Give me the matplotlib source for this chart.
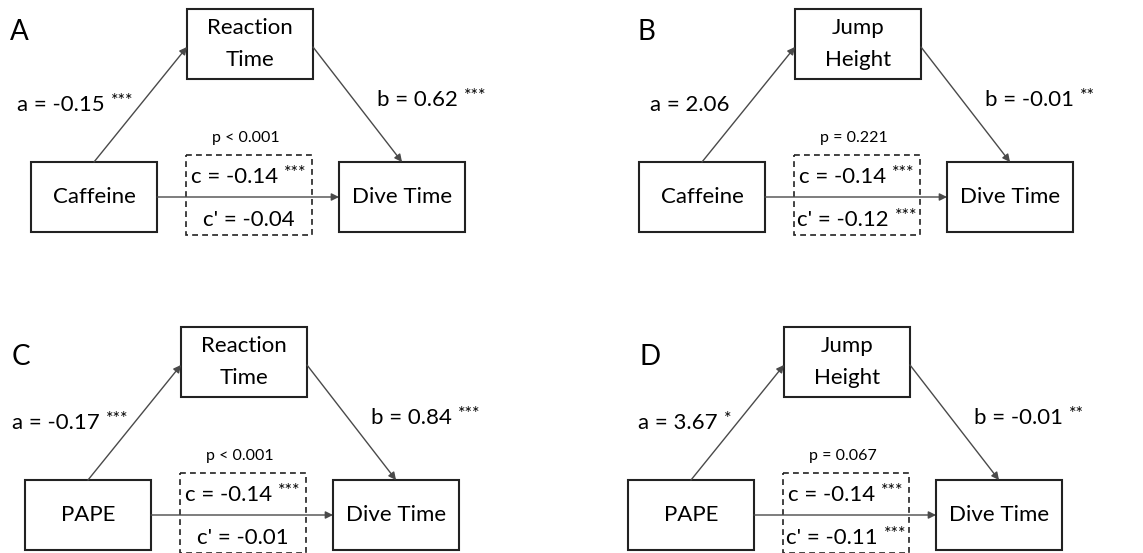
import matplotlib
matplotlib.use("Agg")
import matplotlib.pyplot as plt
from matplotlib.patches import Rectangle, FancyArrowPatch

plt.rcParams['font.family'] = ['Lato', 'DejaVu Sans']

# ---- data ----
panel_letters = ["A", "B", "C", "D"]
predictors = ["Caffeine", "Caffeine", "PAPE", "PAPE"]
mediators = ["Reaction\nTime", "Jump\nHeight", "Reaction\nTime", "Jump\nHeight"]
outcome = "Dive Time"
a_vals = ["-0.15", "2.06", "-0.17", "3.67"]
a_sig = ["***", "", "***", "*"]
b_vals = ["0.62", "-0.01", "0.84", "-0.01"]
b_sig = ["***", "**", "***", "**"]
c_vals = ["-0.14", "-0.14", "-0.14", "-0.14"]
c_sig = ["***", "***", "***", "***"]
cp_vals = ["-0.04", "-0.12", "-0.01", "-0.11"]
cp_sig = ["", "***", "", "***"]
p_texts = ["p < 0.001", "p = 0.221", "p < 0.001", "p = 0.067"]

# ---- layout (pixels) ----
W, H = 1143, 553
pred_xy = [(31, 162), (639, 162), (25, 480), (628, 480)]
letter_xy = [(10, 32), (638, 32), (12, 357), (639, 357)]
a_left = [17, 650, 12, 638]
BW, BH = 126, 70
MED_DX, MED_DY = 156, -153
OUT_DX = 308
DSH_DX, DSH_DY, DSH_W, DSH_H = 155, -7, 126, 80

fig = plt.figure(figsize=(W / 100, H / 100), dpi=100)
ax = fig.add_axes([0, 0, 1, 1])
ax.set_xlim(0, W)
ax.set_ylim(H, 0)
ax.axis('off')
fig.canvas.draw()
renderer = fig.canvas.get_renderer()

BOX_FS = 16
LBL_FS = 16
STAR_FS = 13
P_FS = 11.5
ARROW_C = '#4a4a4a'


def text_with_stars(x, y, main, stars, align='left'):
    t = ax.text(x, y, main, fontsize=LBL_FS, va='center', ha='left', color='black')
    s = ax.text(x, y, stars, fontsize=STAR_FS, va='top', ha='left', color='black')
    bb = t.get_window_extent(renderer)
    w1 = bb.width
    gap = 6
    w2 = s.get_window_extent(renderer).width if stars else 0
    total = w1 + (gap + w2 if stars else 0)
    if align == 'center':
        x0 = x - total / 2
    elif align == 'right':
        x0 = x - total
    else:
        x0 = x
    t.set_x(x0)
    s.set_x(x0 + w1 + gap)
    top = H - bb.y1
    s.set_y(top - 2)


def box(x, y, w, h, label, dashed=False):
    if dashed:
        r = Rectangle((x, y), w, h, fill=False, edgecolor='#222222', lw=1.2,
                      linestyle=(0, (3.5, 2.5)))
    else:
        r = Rectangle((x, y), w, h, fill=False, edgecolor='#222222', lw=1.5)
    ax.add_patch(r)
    if label:
        ax.text(x + w / 2, y + h / 2, label, fontsize=BOX_FS, ha='center', va='center',
                linespacing=1.75, color='black')


def arrow(p0, p1):
    a = FancyArrowPatch(p0, p1, arrowstyle='-|>', mutation_scale=11, lw=1.0,
                        color=ARROW_C, shrinkA=0, shrinkB=0)
    ax.add_patch(a)


for i in range(4):
    px, py = pred_xy[i]
    mx, my = px + MED_DX, py + MED_DY
    ox, oy = px + OUT_DX, py
    dx, dy = px + DSH_DX, py + DSH_DY

    ax.text(letter_xy[i][0], letter_xy[i][1], panel_letters[i], fontsize=20,
            ha='left', va='center', color='black')

    box(dx, dy, DSH_W, DSH_H, None, dashed=True)
    box(px, py, BW, BH, predictors[i])
    box(mx, my, BW, BH, mediators[i])
    box(ox, oy, BW, BH, outcome)

    arrow((px + BW / 2, py), (mx, my + BH / 2 + 3))
    arrow((mx + BW, my + BH / 2 + 3), (ox + BW / 2, oy))
    arrow((px + BW, py + BH / 2), (ox, oy + BH / 2))

    text_with_stars(a_left[i], py - 57, "a = " + a_vals[i], a_sig[i], 'left')
    text_with_stars(px + 346, py - 62, "b = " + b_vals[i], b_sig[i], 'left')
    ax.text(dx + DSH_W / 2 - 3, py - 24, p_texts[i], fontsize=P_FS, ha='center',
            va='center', color='black')
    text_with_stars(dx + DSH_W / 2, py + 15, "c = " + c_vals[i], c_sig[i], 'center')
    text_with_stars(dx + DSH_W / 2, py + 58, "c' = " + cp_vals[i], cp_sig[i], 'center')

fig.savefig("out.png", dpi=100)
